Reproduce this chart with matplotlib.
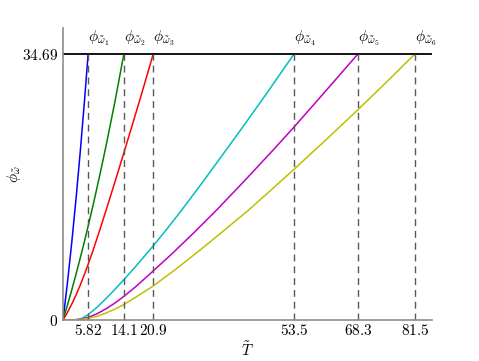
import matplotlib
matplotlib.use("Agg")
import matplotlib.pyplot as plt

plt.rcParams['mathtext.fontset'] = 'cm'
plt.rcParams['font.family'] = 'serif'
plt.rcParams['font.serif'] = ['DejaVu Serif']

phi_max = 34.69
t_ends = [5.82, 14.1, 20.9, 53.5, 68.3, 81.5]
t_labels = ['5.82', '14.1', '20.9', '53.5', '68.3', '81.5']
colors = ['b', 'g', 'r', 'c', 'm', 'y']

# curves (T, phi)
t1 = [0, 1, 2, 3, 4, 5, 5.82]
p1 = [0, 4.72, 9.95, 15.70, 21.97, 28.75, 34.69]
t2 = [0, 1, 2, 3, 4, 5, 5.82, 7, 8.5, 10, 12, 14.1]
p2 = [0, 1.89, 3.87, 5.94, 8.09, 10.33, 12.23, 15.06, 18.84, 22.8, 28.39, 34.69]
t3 = [0, 1, 2, 3, 4, 5, 5.82, 7, 8.5, 10, 12, 13.96, 16, 18, 20.9]
p3 = [0, 0.96, 2.04, 3.24, 4.56, 6.0, 7.25, 9.15, 11.7, 14.35, 17.95, 21.55, 25.35, 29.1, 34.69]
t4 = [0, 2.5, 3.5, 4.5, 5.8, 8, 10, 12, 14, 17, 20.8, 24, 27.5, 32, 37.7, 42, 47, 53.5]
p4 = [0, 0, 0.06, 0.25, 0.68, 1.72, 2.82, 3.98, 5.2, 7.09, 9.6, 11.82, 14.34, 17.72, 22.11, 25.46, 29.41, 34.69]
t5 = [0, 1.6, 3, 4.5, 5.8, 8, 10, 12, 14, 17, 20.8, 25, 30, 35.6, 42, 48.7, 53.5, 60, 68.3]
p5 = [0, 0, 0.04, 0.15, 0.33, 0.85, 1.47, 2.2, 3.04, 4.42, 6.35, 8.51, 11.21, 14.35, 18.13, 22.18, 25.16, 29.32, 34.69]
t6 = [0, 1.5, 3, 4.5, 5.8, 8, 10, 12, 14, 17, 20.8, 25.9, 31.7, 37, 43.07, 48, 53.5, 61, 68.4, 75, 81.5]
p6 = [0, 0, 0.03, 0.1, 0.22, 0.5, 0.92, 1.42, 1.98, 3.03, 4.4, 6.52, 9.1, 11.54, 14.38, 16.85, 19.65, 23.55, 27.47, 31.07, 34.69]

curves = [(t1, p1), (t2, p2), (t3, p3), (t4, p4), (t5, p5), (t6, p6)]

fig = plt.figure(figsize=(4.79, 3.61), dpi=100)
ax = fig.add_axes([63 / 479, 1 - 320 / 361, (432 - 63) / 479, (320 - 28) / 361])

for (t, p), c in zip(curves, colors):
    ax.plot(t, p, color=c, linewidth=1.1)

ax.axhline(phi_max, color='k', linewidth=1.3)

for i, te in enumerate(t_ends):
    ax.plot([te, te], [0, phi_max], color='0.35', linewidth=1.0, dashes=(5, 3.5))
    ax.text(te, phi_max + 0.8, r'$\phi_{\tilde{\omega}_%d}$' % (i + 1),
            ha='left', va='bottom', fontsize=11)

ax.set_xlim(0, 85.5)
ax.set_ylim(0, 38.1)
ax.set_xticks(t_ends)
ax.set_xticklabels(['$' + s + '$' for s in t_labels], fontsize=11)
ax.set_yticks([0, phi_max])
ax.set_yticklabels(['$0$', '$34.69$'], fontsize=11)
ax.tick_params(axis='x', length=0, pad=2.5)
ax.tick_params(axis='y', length=0, pad=3.5)

for s in ['top', 'right']:
    ax.spines[s].set_visible(False)
for s in ['left', 'bottom']:
    ax.spines[s].set_color('0.55')
    ax.spines[s].set_linewidth(1.2)

ax.set_xlabel(r'$\tilde{T}$', fontsize=11)
ax.set_ylabel(r'$\phi_{\tilde{\omega}}$', fontsize=11)
ax.xaxis.set_label_coords(0.5, -0.068)
ax.yaxis.set_label_coords(-0.108, 0.5)

fig.savefig('out.png', dpi=100)
